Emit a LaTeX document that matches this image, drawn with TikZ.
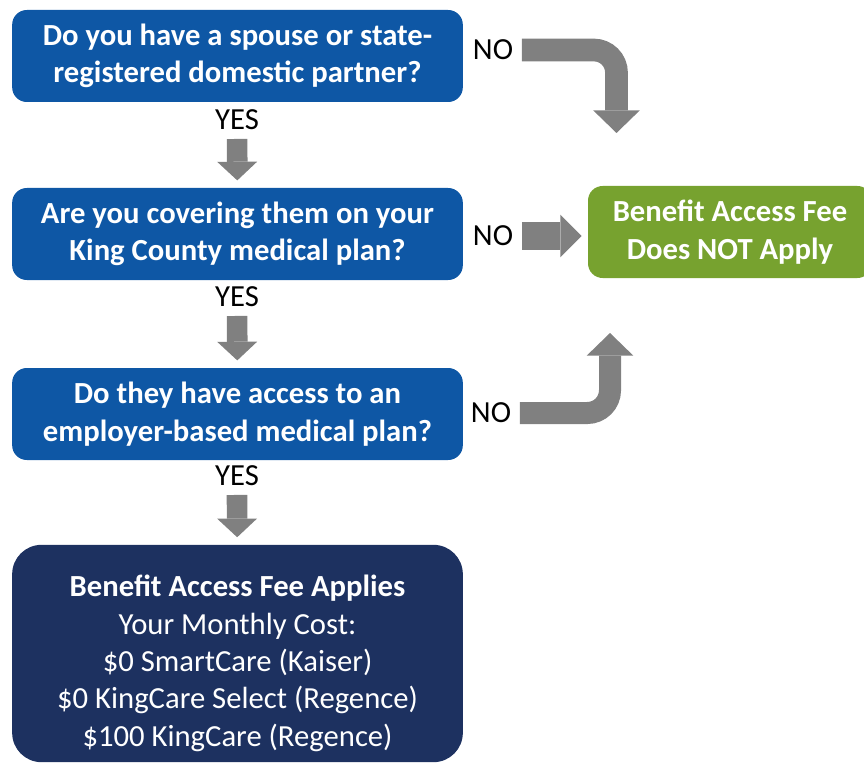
\documentclass[tikz,border=0pt]{standalone}
\usepackage{fontspec}
\setmainfont{Carlito}
\usepackage{xcolor}
\usetikzlibrary{arrows.meta, positioning}

\definecolor{kcblue}{HTML}{0E57A5}
\definecolor{kcnavy}{HTML}{1D3160}
\definecolor{kcgreen}{HTML}{77A22F}
\definecolor{kcgray}{HTML}{808080}

\begin{document}
\begin{tikzpicture}[x=0.75pt, y=-0.75pt,
    every node/.style={font=\fontsize{23pt}{28pt}\selectfont},
    question/.style={fill=kcblue, text=white, rounded corners=11pt,
        minimum width=338pt, minimum height=69pt, align=center,
        font=\fontsize{23pt}{28pt}\selectfont\bfseries},
    answer/.style={inner sep=6.5pt},
    yesarrow/.style={kcgray, line width=15.5pt, shorten >=5.5pt,
        -{Triangle[width=30pt, length=14pt, line width=0pt]}},
    noarrow/.style={kcgray, rounded corners=17pt,
        -{Triangle[width=35pt, length=17pt, line width=0pt]}}]

    \useasboundingbox (0,0) rectangle (864,763);

    % Questions
    \node[question] (q1) at (237.5,56) {Do you have a spouse or state-\\registered domestic partner?};
    \node[question] (q2) at (237.5,234) {Are you covering them on your\\King County medical plan?};
    \node[question] (q3) at (237.5,414) {Do they have access to an\\employer-based medical plan?};

    % Fee applies
    \node[fill=kcnavy, text=white, rounded corners=22pt, minimum width=338pt,
        minimum height=163pt, align=center] (fee) at (237.5,653.5)
        {\rule{0pt}{31pt}\textbf{Benefit Access Fee Applies}\\Your Monthly Cost:\\\$0 SmartCare (Kaiser)\\
         \$0 KingCare Select (Regence)\\\$100 KingCare (Regence)};

    % Fee does not apply
    \node[fill=kcgreen, text=white, rounded corners=11pt, minimum width=213pt,
        minimum height=69pt, align=center,
        font=\fontsize{23pt}{28pt}\selectfont\bfseries] (nofee) at (730,232)
        {Benefit Access Fee\\Does NOT Apply};

    % YES labels
    \node[answer] (yes1) at (237,120) {YES};
    \node[answer] (yes2) at (237,297) {YES};
    \node[answer] (yes3) at (237,476) {YES};

    % NO labels
    \node[answer] (no1) at (493,50) {NO};
    \node[answer] (no2) at (493,236) {NO};
    \node[answer] (no3) at (491,413) {NO};

    \coordinate (turn1) at (616.5,133);
    \coordinate (turn3) at (610,333);

    % Arrows down
    \draw[yesarrow] (yes1) -- (q2);
    \draw[yesarrow] (yes2) -- (q3);
    \draw[yesarrow] (yes3) -- (fee);

    % Arrows to the right
    \draw[noarrow, line width=17pt] (no1.east) -| (turn1);
    \draw[kcgray, line width=21pt, shorten >=4.5pt,
        -{Triangle[width=32pt, length=16pt, line width=0pt]}]
        (no2.east) -- (no2.east -| nofee.west);
    \draw[noarrow, line width=16.5pt] (no3.east) -| (turn3);

\end{tikzpicture}
\end{document}
